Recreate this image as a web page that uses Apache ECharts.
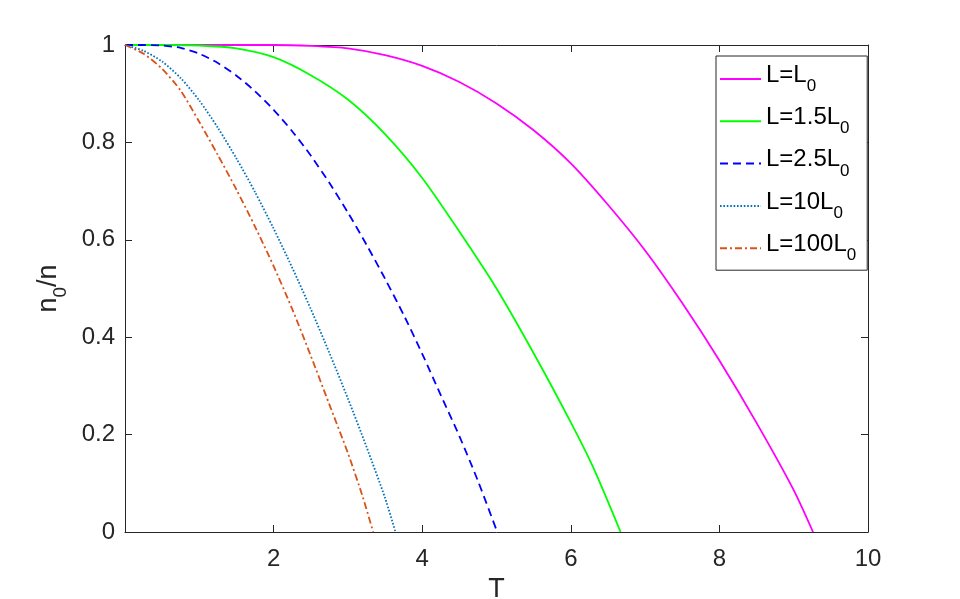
<!DOCTYPE html>
<html>
<head>
<meta charset="utf-8">
<script src="https://cdn.jsdelivr.net/npm/echarts@6/dist/echarts.min.js"></script>
<style>
html,body{margin:0;padding:0;background:#fff;}
#chart{width:960px;height:599px;}
</style>
</head>
<body>
<div id="chart"></div>
<script>
// ---- data ----
var seriesNames = ['L=L0', 'L=1.5L0', 'L=2.5L0', 'L=10L0', 'L=100L0'];
var legendMain = ['L=L', 'L=1.5L', 'L=2.5L', 'L=10L', 'L=100L'];

var T_L1 = [0, 1, 2, 2.5, 3, 3.5, 4, 4.5, 5, 5.5, 6, 6.5, 7, 7.5, 8, 8.5, 9, 9.26];
var V_L1 = [1, 1, 1, 0.998, 0.993, 0.979, 0.957, 0.924, 0.880, 0.825, 0.757, 0.672, 0.578, 0.470, 0.352, 0.224, 0.086, 0];

var T_L15 = [0, 0.5, 1, 1.5, 2, 2.5, 3, 3.5, 4, 4.5, 5, 5.5, 6, 6.3, 6.67];
var V_L15 = [1, 1, 0.999, 0.993, 0.975, 0.938, 0.888, 0.817, 0.727, 0.617, 0.500, 0.367, 0.225, 0.133, 0];

var T_L25 = [0, 0.25, 0.5, 0.75, 1, 1.25, 1.5, 1.75, 2, 2.25, 2.5, 2.75, 3, 3.25, 3.5, 3.75, 4, 4.25, 4.5, 4.75, 5.01];
var V_L25 = [1, 1, 0.999, 0.994, 0.982, 0.963, 0.937, 0.905, 0.867, 0.823, 0.773, 0.717, 0.656, 0.590, 0.520, 0.446, 0.366, 0.281, 0.197, 0.105, 0];

var T_L10 = [0, 0.25, 0.5, 0.75, 1, 1.25, 1.5, 1.75, 2, 2.25, 2.5, 2.75, 3, 3.25, 3.5, 3.64];
var V_L10 = [1, 0.988, 0.966, 0.932, 0.886, 0.830, 0.767, 0.698, 0.623, 0.543, 0.458, 0.368, 0.274, 0.175, 0.070, 0];

var T_L100 = [0, 0.25, 0.5, 0.75, 1, 1.25, 1.5, 1.75, 2, 2.25, 2.5, 2.75, 3, 3.2, 3.34];
var V_L100 = [1, 0.982, 0.951, 0.906, 0.842, 0.774, 0.703, 0.627, 0.546, 0.458, 0.362, 0.262, 0.162, 0.072, 0];

var xTicks = [0, 2, 4, 6, 8, 10];
var yTicks = [0, 0.2, 0.4, 0.6, 0.8, 1];

// ---- build chart ----
function pairs(t, v) { return t.map(function (x, i) { return [x, v[i]]; }); }

var FONT = "'Liberation Sans', Arial, Helvetica, sans-serif";
var AX = '#262626';

var colors = ['#FF00FF', '#00FF00', '#0000FF', '#0072BD', '#D95319'];
var dashes = ['solid', 'solid', [8, 5], [1.6, 1.8], [7, 3, 2, 3]];
var allData = [pairs(T_L1, V_L1), pairs(T_L15, V_L15), pairs(T_L25, V_L25), pairs(T_L10, V_L10), pairs(T_L100, V_L100)];

var series = seriesNames.map(function (n, i) {
  return {
    name: n,
    type: 'line',
    data: allData[i],
    showSymbol: false,
    symbol: 'none',
    smooth: 0.25,
    lineStyle: { color: colors[i], width: 1.8, type: dashes[i], cap: 'butt' },
    itemStyle: { color: colors[i] },
    xAxisIndex: 0,
    yAxisIndex: 0,
    z: 2 + i
  };
});

var chart = echarts.init(document.getElementById('chart'), null, { renderer: 'canvas' });

var tickCommon = { show: true, inside: true, length: 7, lineStyle: { color: AX, width: 1 } };
var lineCommon = { show: true, onZero: false, lineStyle: { color: AX, width: 1 } };

chart.setOption({
  animation: false,
  backgroundColor: '#fff',
  grid: { left: 125, right: 92, top: 45, bottom: 67, containLabel: false, outerBoundsMode: 'none' },
  xAxis: [{
    type: 'value', min: xTicks[0], max: xTicks[xTicks.length - 1], interval: xTicks[1] - xTicks[0],
    position: 'bottom',
    axisLine: lineCommon, axisTick: tickCommon, splitLine: { show: false },
    axisLabel: { color: AX, fontSize: 24, fontFamily: FONT, margin: 15,
      formatter: function (v) { return v === 0 ? '' : String(v); } },
    name: 'T', nameLocation: 'middle', nameGap: 28,
    nameTextStyle: { color: AX, fontSize: 27, fontFamily: FONT }
  }, {
    type: 'value', min: xTicks[0], max: xTicks[xTicks.length - 1], interval: xTicks[1] - xTicks[0],
    position: 'top', gridIndex: 0,
    axisLine: lineCommon, axisTick: tickCommon, splitLine: { show: false },
    axisLabel: { show: false }
  }],
  yAxis: [{
    type: 'value', min: yTicks[0], max: yTicks[yTicks.length - 1], interval: yTicks[1] - yTicks[0],
    position: 'left',
    axisLine: lineCommon, axisTick: tickCommon, splitLine: { show: false },
    axisLabel: { color: AX, fontSize: 24, fontFamily: FONT, margin: 10 },
    name: '{m|n}{s|0}{m|/n}', nameLocation: 'middle', nameGap: 50, nameRotate: 90,
    nameTextStyle: {
      color: AX, fontFamily: FONT,
      rich: {
        m: { fontSize: 27, lineHeight: 36, verticalAlign: 'top', fontFamily: FONT, color: AX },
        s: { fontSize: 19, lineHeight: 36, verticalAlign: 'bottom', fontFamily: FONT, color: AX }
      }
    }
  }, {
    type: 'value', min: yTicks[0], max: yTicks[yTicks.length - 1], interval: yTicks[1] - yTicks[0],
    position: 'right', gridIndex: 0,
    axisLine: lineCommon, axisTick: tickCommon, splitLine: { show: false },
    axisLabel: { show: false }
  }],
  legend: {
    data: seriesNames,
    orient: 'vertical',
    left: 716, top: 56,
    padding: [7, 11, 6, 3],
    itemGap: 10.3,
    itemWidth: 41, itemHeight: 14,
    itemStyle: { opacity: 0 },
    backgroundColor: '#fff',
    borderColor: AX, borderWidth: 1, borderRadius: 0,
    selectedMode: false,
    formatter: function (name) {
      var i = seriesNames.indexOf(name);
      return '{m|' + legendMain[i] + '}{s|0}';
    },
    textStyle: {
      color: '#000', fontFamily: FONT,
      rich: {
        m: { fontSize: 24, lineHeight: 32, verticalAlign: 'top', fontFamily: FONT, color: '#000' },
        s: { fontSize: 17, lineHeight: 32, verticalAlign: 'bottom', fontFamily: FONT, color: '#000' }
      }
    }
  },
  series: series
});
</script>
</body>
</html>
